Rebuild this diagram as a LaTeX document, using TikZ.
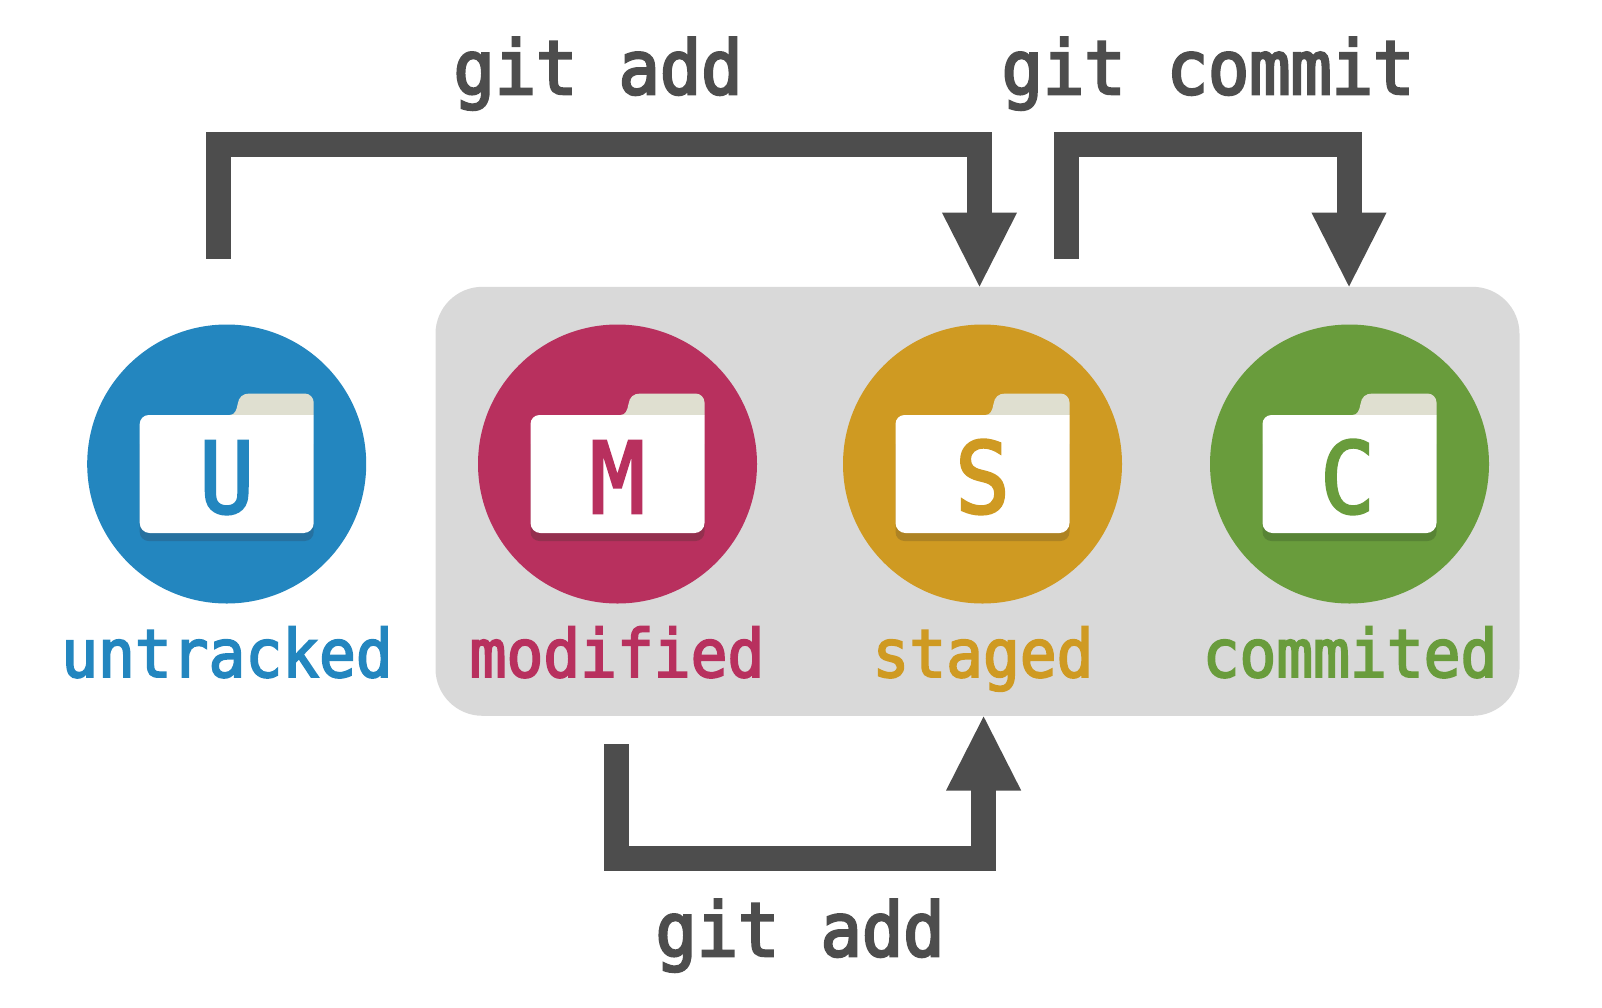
\documentclass[tikz,border=0pt]{standalone}
\usepackage{fontspec}
\usetikzlibrary{arrows.meta}
\newfontfamily\monof[FakeStretch=0.92,FakeBold=3.4]{DejaVu Sans Mono}
\newfontfamily\statef[FakeStretch=0.92,FakeBold=2.8]{DejaVu Sans Mono}
\newfontfamily\letf[FakeStretch=0.92,FakeBold=2.5]{DejaVu Sans Mono}
\definecolor{cblue}{HTML}{2386BF}
\definecolor{cred}{HTML}{B8305E}
\definecolor{cyel}{HTML}{CF9A22}
\definecolor{cgrn}{HTML}{699C3C}
\definecolor{sblue}{HTML}{2671A0}
\definecolor{sred}{HTML}{94304F}
\definecolor{syel}{HTML}{AE8323}
\definecolor{sgrn}{HTML}{588435}
\definecolor{cgray}{HTML}{D9D9D9}
\definecolor{cdark}{HTML}{4D4D4D}
\definecolor{ctab}{HTML}{DFDFD0}
\tikzset{
  x=1pt,y=-1pt,
  disc/.style={circle,inner sep=0pt,minimum size=279pt},
  panel/.style={rectangle,fill=cgray,rounded corners=47pt,inner sep=0pt,minimum width=1084pt,minimum height=429pt},
  flow/.style={draw=cdark,line width=25pt,-{Triangle[length=76pt 0 0,width=69pt 0 0]}},
  cmd/.style={text=cdark,anchor=base,inner sep=0pt,font=\monof\fontsize{74.5}{78}\selectfont},
  state/.style={anchor=base,inner sep=0pt,font=\statef\fontsize{66.5}{70}\selectfont},
  letterm/.style={anchor=base,inner sep=0pt,font=\letf\fontsize{99}{103}\selectfont},
}
\newcommand{\folderat}[6]{% name, cx, colour, shadow, letter, letter offset
  \begin{scope}[shift={(#2,464)}]
    \fill[#4] (-87,-20) -- (87,-20) -- (87,68) arc[start angle=0,end angle=90,radius=9] -- (-78,77) arc[start angle=90,end angle=180,radius=9] -- cycle;
    \fill[ctab] (3,-49) .. controls (8,-49) and (10,-54) .. (11,-60) .. controls (12,-67) and (16,-70.5) .. (23,-70.5) -- (78,-70.5) arc[start angle=-90,end angle=0,radius=9] -- (87,-49) -- cycle;
    \fill[white] (-78,-49) -- (87,-49) -- (87,59) arc[start angle=0,end angle=90,radius=10] -- (-77,69) arc[start angle=90,end angle=180,radius=10] -- (-87,-40) arc[start angle=180,end angle=270,radius=9] -- cycle;
    \node[letterm,text=#3] (#1) at (#6,49) {#5};
  \end{scope}
}
\begin{document}
\begin{tikzpicture}
\useasboundingbox (0,0) rectangle (1602,1007);
\node[panel] (box) at (977.5,501.3) {};
\node[disc,fill=cblue] (untracked) at (226.7,464) {};
\node[disc,fill=cred] (modified) at (617.5,464) {};
\node[disc,fill=cyel] (staged) at (982.5,464) {};
\node[disc,fill=cgrn] (commited) at (1349.5,464) {};
\folderat{lu}{226.7}{cblue}{sblue}{U}{0}
\folderat{lm}{617.5}{cred}{sred}{M}{0}
\folderat{ls}{982.5}{cyel}{syel}{S}{0}
\folderat{lc}{1349.5}{cgrn}{sgrn}{C}{-2}
\node[state,text=cblue] (tu) at (227,677) {untracked};
\node[state,text=cred] (tm) at (617,677) {modified};
\node[state,text=cyel] (ts) at (983,677) {staged};
\node[state,text=cgrn] (tc) at (1350,677) {commited};
\node[cmd] (add1) at (598,94) {git add};
\node[cmd] (commit) at (1208,94) {git commit};
\node[cmd] (add2) at (800,956) {git add};
\coordinate (a0) at (218.6,258.7);
\coordinate (a1) at (218.6,144);
\coordinate (a2) at (979.5,144);
\coordinate (a3) at (979.5,288.5);
\coordinate (b0) at (1066,258.7);
\coordinate (b1) at (1066,144);
\coordinate (b2) at (1349,144);
\coordinate (b3) at (1349,288.5);
\coordinate (c0) at (616.3,744.3);
\coordinate (c1) at (616.3,858);
\coordinate (c2) at (983.6,858);
\coordinate (c3) at (983.6,714.5);
\draw[flow] (a0) -- (a1) -- (a2) -- (a3);
\draw[flow] (b0) -- (b1) -- (b2) -- (b3);
\draw[flow] (c0) -- (c1) -- (c2) -- (c3);
\end{tikzpicture}
\end{document}
